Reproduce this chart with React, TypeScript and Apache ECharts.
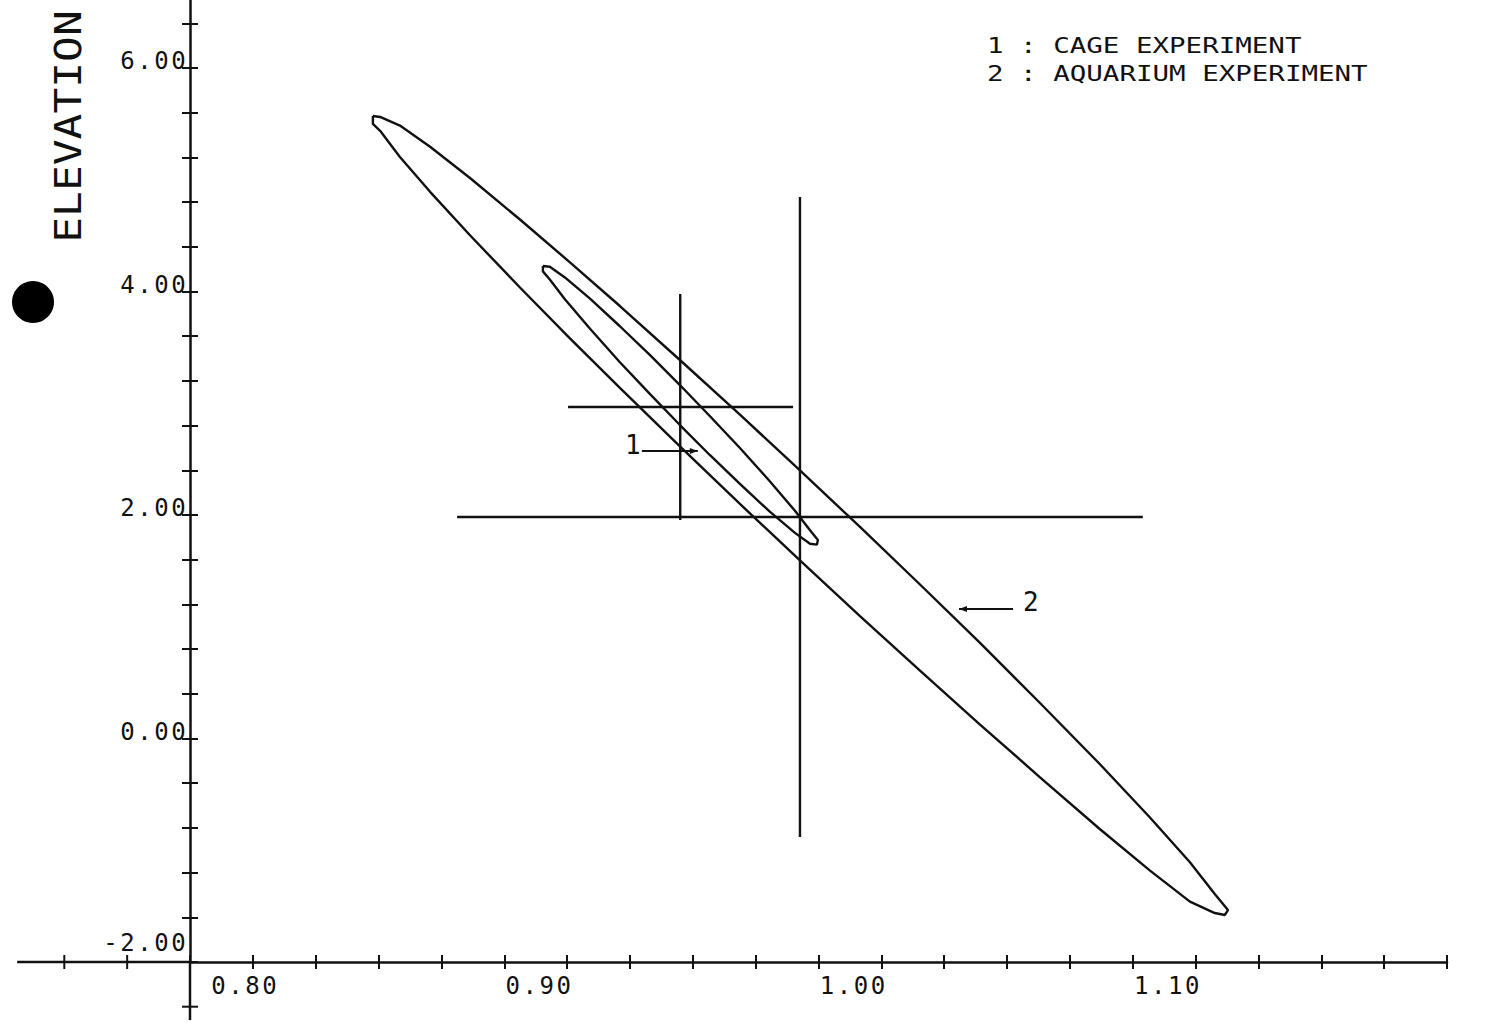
import React, { useEffect, useRef } from "react";
import * as echarts from "echarts";

const FONT = '"DejaVu Sans Mono", "Liberation Mono", monospace';
const INK = "#111";

// ---- axes ----
const X_MIN = 0.8;
const X_MAX = 1.2;
const X_STEP = 0.02;
const Y_MIN = -2.0;
const Y_MAX = 6.8;
const Y_STEP = 0.4;
const xTickLabels = [0.8, 0.9, 1.0, 1.1];
const yTickLabels = [-2, 0, 2, 4, 6];
// parts of the axes drawn beyond their crossing point
const xAxisExtension = [0.745, 0.8];
const xExtensionTicks = [0.76, 0.78];
const yAxisExtension = [-2.0, -2.52];
const yExtensionTicks = [-2.4];

// ---- confidence region 2 : aquarium experiment ----
const aquariumEllipse: number[][] = [
  [0.8582, 5.57], [0.8605, 5.562], [0.8668, 5.485], [0.8764, 5.295], [0.8891, 5.016],
  [0.905, 4.644], [0.9209, 4.261], [0.9368, 3.87], [0.9559, 3.387], [0.975, 2.898],
  [0.9941, 2.399], [1.0132, 1.893], [1.0323, 1.378], [1.0514, 0.855], [1.0704, 0.32],
  [1.0895, -0.228], [1.1054, -0.705], [1.1182, -1.108], [1.1261, -1.392], [1.1303, -1.535],
  [1.1293, -1.579], [1.1261, -1.562], [1.1182, -1.46], [1.1054, -1.18], [1.0895, -0.81],
  [1.0704, -0.345], [1.0514, 0.125], [1.0323, 0.607], [1.0132, 1.096], [0.9941, 1.594],
  [0.975, 2.099], [0.9559, 2.614], [0.9368, 3.137], [0.9209, 3.581], [0.905, 4.036],
  [0.8891, 4.503], [0.8764, 4.892], [0.8668, 5.204], [0.8605, 5.438], [0.8582, 5.499],
  [0.8582, 5.57],
];

// ---- confidence region 1 : cage experiment ----
const cageEllipse: number[][] = [
  [0.9123, 4.228], [0.9145, 4.221], [0.9193, 4.126], [0.9273, 3.936], [0.9368, 3.689],
  [0.9464, 3.431], [0.9559, 3.163], [0.9654, 2.886], [0.975, 2.6], [0.9845, 2.302],
  [0.9925, 2.038], [0.9973, 1.863], [0.9998, 1.776], [0.9995, 1.735], [0.9973, 1.743],
  [0.9925, 1.84], [0.9845, 2.03], [0.975, 2.278], [0.9654, 2.537], [0.9559, 2.805],
  [0.9464, 3.082], [0.9368, 3.367], [0.9273, 3.666], [0.9193, 3.931], [0.9145, 4.108],
  [0.9123, 4.18], [0.9123, 4.228],
];

// crosshairs: [cx, cy, xLow, xHigh, yLow, yHigh]
const cageCross = [0.956, 2.967, 0.9203, 0.9919, 1.955, 3.978];
const aquariumCross = [0.9941, 1.982, 0.885, 1.1032, -0.881, 4.846];

// arrows: [xFrom, yFrom, xTip, yTip, labelX, labelY]
const arrowLabels = ["1", "2"];
const arrowCoords = [
  [0.9438, 2.573, 0.9616, 2.573, 0.9409, 2.627],
  [1.0619, 1.159, 1.0447, 1.159, 1.0676, 1.222],
];

const legendLines = ["1 : CAGE EXPERIMENT", "2 : AQUARIUM EXPERIMENT"];
const yTitle = "ELEVATION";

// layout
const PX_PER_Y = 111.75;
const GRID_LEFT = 190;
const GRID_WIDTH = 1257;
const GRID_TOP = 68 - (Y_MAX - 6) * PX_PER_Y;
const GRID_HEIGHT = (Y_MAX - Y_MIN) * PX_PER_Y;

const near = (a: number, b: number) => Math.abs(a - b) < 1e-6;
const charRich = (s: string) =>
  s
    .split("")
    .map((c) => `{c|${c}}`)
    .join("");

const richChars = {
  c: { width: 17, align: "center", fontSize: 24, fontFamily: FONT, color: INK },
  p: { width: 20, fontSize: 24, fontFamily: FONT },
};

const stroke = (w: number) => ({ stroke: INK, lineWidth: w });

export default function App() {
  const ref = useRef<HTMLDivElement>(null);

  useEffect(() => {
    document.body.style.margin = "0";
    if (!ref.current) return;
    const chart = echarts.init(ref.current, null, { renderer: "svg" });

    const axisBase = {
      type: "value",
      splitLine: { show: false },
    };

    const option: any = {
      animation: false,
      backgroundColor: "#ffffff",
      grid: {
        left: GRID_LEFT,
        top: GRID_TOP,
        width: GRID_WIDTH,
        height: GRID_HEIGHT,
        containLabel: false,
        outerBoundsMode: "none",
      },
      xAxis: [
        {
          ...axisBase,
          min: X_MIN,
          max: X_MAX,
          interval: X_STEP,
          position: "bottom",
          axisLine: { show: true, onZero: false, lineStyle: { color: INK, width: 2.5 } },
          axisTick: { show: true, length: 7, lineStyle: { color: INK, width: 2 } },
          axisLabel: {
            show: true,
            align: "left",
            verticalAlign: "top",
            margin: 12,
            hideOverlap: false,
            showMinLabel: true,
            showMaxLabel: true,
            rich: richChars,
            formatter: (v: number) => {
              const hit = xTickLabels.find((t) => near(t, v));
              if (hit === undefined) return "";
              const s = charRich(hit.toFixed(2));
              return near(hit, X_MIN) ? "{p| }" + s : s;
            },
          },
        },
        {
          ...axisBase,
          min: X_MIN,
          max: X_MAX,
          interval: X_STEP,
          position: "bottom",
          axisLine: { show: false, onZero: false },
          axisTick: { show: true, inside: true, length: 7, lineStyle: { color: INK, width: 2 } },
          axisLabel: { show: false },
        },
      ],
      yAxis: [
        {
          ...axisBase,
          min: Y_MIN,
          max: Y_MAX,
          interval: Y_STEP,
          position: "left",
          axisLine: { show: true, onZero: false, lineStyle: { color: INK, width: 2.5 } },
          axisTick: { show: true, length: 8, lineStyle: { color: INK, width: 2 } },
          axisLabel: {
            show: true,
            align: "right",
            verticalAlign: "middle",
            margin: 3,
            padding: [0, 0, 14, 0],
            hideOverlap: false,
            showMinLabel: true,
            showMaxLabel: false,
            rich: richChars,
            formatter: (v: number) => {
              const hit = yTickLabels.find((t) => near(t, v));
              if (hit === undefined) return "";
              const s = charRich(hit.toFixed(2));
              // the lowest label sits a little higher, clear of the x axis
              return near(hit, Y_MIN) ? s + "\n{c| }" : s;
            },
          },
        },
        {
          ...axisBase,
          min: Y_MIN,
          max: Y_MAX,
          interval: Y_STEP,
          position: "left",
          axisLine: { show: false, onZero: false },
          axisTick: { show: true, inside: true, length: 8, lineStyle: { color: INK, width: 2 } },
          axisLabel: { show: false },
        },
      ],
      series: [
        {
          name: "aquarium",
          type: "line",
          xAxisIndex: 0,
          yAxisIndex: 0,
          data: aquariumEllipse,
          showSymbol: false,
          symbol: "none",
          silent: true,
          lineStyle: { color: INK, width: 2.4 },
        },
        {
          name: "cage",
          type: "line",
          xAxisIndex: 0,
          yAxisIndex: 0,
          data: cageEllipse,
          showSymbol: false,
          symbol: "none",
          silent: true,
          lineStyle: { color: INK, width: 2.4 },
        },
        {
          name: "crosshairs",
          type: "custom",
          xAxisIndex: 0,
          yAxisIndex: 0,
          clip: false,
          silent: true,
          data: [cageCross, aquariumCross],
          renderItem: (params: any, api: any) => {
            const cx = api.value(0);
            const cy = api.value(1);
            const a = api.coord([api.value(2), cy]);
            const b = api.coord([api.value(3), cy]);
            const c = api.coord([cx, api.value(4)]);
            const d = api.coord([cx, api.value(5)]);
            return {
              type: "group",
              children: [
                { type: "line", shape: { x1: a[0], y1: a[1], x2: b[0], y2: b[1] }, style: stroke(2.4) },
                { type: "line", shape: { x1: c[0], y1: c[1], x2: d[0], y2: d[1] }, style: stroke(2.4) },
              ],
            };
          },
        },
        {
          name: "arrows",
          type: "custom",
          xAxisIndex: 0,
          yAxisIndex: 0,
          clip: false,
          silent: true,
          data: arrowCoords,
          renderItem: (params: any, api: any) => {
            const p1 = api.coord([api.value(0), api.value(1)]);
            const p2 = api.coord([api.value(2), api.value(3)]);
            const lp = api.coord([api.value(4), api.value(5)]);
            const dir = Math.sign(p2[0] - p1[0]) || 1;
            const head = 8;
            const hw = 3;
            return {
              type: "group",
              children: [
                { type: "line", shape: { x1: p1[0], y1: p1[1], x2: p2[0], y2: p2[1] }, style: stroke(2) },
                {
                  type: "polygon",
                  shape: {
                    points: [
                      [p2[0], p2[1]],
                      [p2[0] - dir * head, p2[1] - hw],
                      [p2[0] - dir * head, p2[1] + hw],
                    ],
                  },
                  style: { fill: INK },
                },
                {
                  type: "text",
                  x: lp[0],
                  y: lp[1],
                  style: {
                    text: arrowLabels[params.dataIndex],
                    fontSize: 26,
                    fontFamily: FONT,
                    fill: INK,
                    align: "center",
                    verticalAlign: "middle",
                  },
                },
              ],
            };
          },
        },
        {
          name: "axisExtensions",
          type: "custom",
          xAxisIndex: 0,
          yAxisIndex: 0,
          clip: false,
          silent: true,
          data: [[X_MIN, Y_MIN]],
          renderItem: (params: any, api: any) => {
            const children: any[] = [];
            const xa = api.coord([xAxisExtension[0], Y_MIN]);
            const xb = api.coord([xAxisExtension[1], Y_MIN]);
            children.push({ type: "line", shape: { x1: xa[0], y1: xa[1], x2: xb[0], y2: xb[1] }, style: stroke(2.5) });
            xExtensionTicks.forEach((t) => {
              const p = api.coord([t, Y_MIN]);
              children.push({ type: "line", shape: { x1: p[0], y1: p[1] - 7, x2: p[0], y2: p[1] + 7 }, style: stroke(2) });
            });
            const ya = api.coord([X_MIN, yAxisExtension[0]]);
            const yb = api.coord([X_MIN, yAxisExtension[1]]);
            children.push({ type: "line", shape: { x1: ya[0], y1: ya[1], x2: yb[0], y2: yb[1] }, style: stroke(2.5) });
            yExtensionTicks.forEach((t) => {
              const p = api.coord([X_MIN, t]);
              children.push({ type: "line", shape: { x1: p[0] - 8, y1: p[1], x2: p[0] + 8, y2: p[1] }, style: stroke(2) });
            });
            return { type: "group", children };
          },
        },
      ],
      graphic: [
        {
          type: "text",
          x: 68.5,
          y: 126.5,
          rotation: Math.PI / 2,
          scaleX: 1.16,
          style: {
            text: yTitle,
            fontSize: 37,
            fontFamily: FONT,
            fill: INK,
            align: "center",
            verticalAlign: "middle",
          },
        },
        ...legendLines.map((t, i) => ({
          type: "text",
          x: 987,
          y: 45 + i * 28.5,
          scaleX: 1.25,
          style: {
            text: t,
            fontSize: 22,
            fontFamily: FONT,
            fill: INK,
            align: "left",
            verticalAlign: "middle",
          },
        })),
        {
          type: "circle",
          shape: { cx: 33, cy: 302, r: 21 },
          style: { fill: "#000" },
        },
      ],
    };

    chart.setOption(option);
    return () => {
      chart.dispose();
    };
  }, []);

  return <div ref={ref} style={{ width: 1501, height: 1024 }} />;
}
